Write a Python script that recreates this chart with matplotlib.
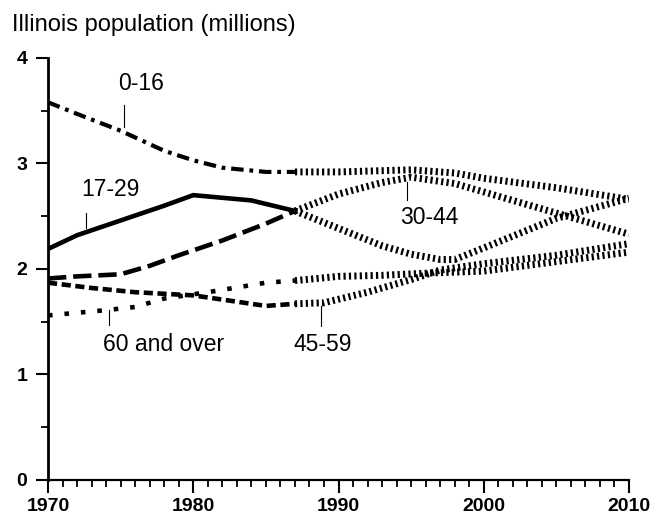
import matplotlib
matplotlib.use("Agg")
import matplotlib.pyplot as plt
from matplotlib.ticker import MultipleLocator

plt.rcParams['font.family'] = ['Liberation Sans', 'DejaVu Sans']

# recorded part of each series (to 1987)
yrs_0_16 = [1970, 1972, 1975, 1978, 1980, 1982, 1985, 1987]
val_0_16 = [3.58, 3.47, 3.31, 3.12, 3.03, 2.96, 2.92, 2.92]
yrs_17_29 = [1970, 1972, 1975, 1978, 1980, 1984, 1987]
val_17_29 = [2.19, 2.32, 2.46, 2.60, 2.70, 2.65, 2.55]
yrs_30_44 = [1970, 1972, 1975, 1977, 1979, 1982, 1985, 1987]
val_30_44 = [1.91, 1.93, 1.95, 2.03, 2.13, 2.27, 2.43, 2.55]
yrs_45_59 = [1970, 1973, 1976, 1980, 1983, 1985, 1987]
val_45_59 = [1.87, 1.82, 1.78, 1.75, 1.69, 1.65, 1.67]
yrs_60 = [1970, 1974, 1976, 1978, 1981, 1985, 1987]
val_60 = [1.56, 1.61, 1.64, 1.72, 1.78, 1.87, 1.89]

# projections (1987-2010)
pyrs_0_16 = [1987, 1990, 1995, 1998, 2000, 2005, 2010]
pval_0_16 = [2.92, 2.92, 2.94, 2.91, 2.86, 2.77, 2.66]
pyrs_17_29 = [1987, 1989, 1991, 1993, 1995, 1997, 1998, 2000, 2005, 2010]
pval_17_29 = [2.55, 2.44, 2.33, 2.22, 2.14, 2.09, 2.09, 2.20, 2.48, 2.67]
pyrs_30_44 = [1987, 1990, 1993, 1995, 1998, 2000, 2005, 2010]
pval_30_44 = [2.55, 2.71, 2.82, 2.87, 2.81, 2.73, 2.53, 2.33]
pyrs_45_59 = [1987, 1989, 1992, 1995, 1997, 2000, 2005, 2010]
pval_45_59 = [1.67, 1.68, 1.78, 1.90, 1.99, 2.05, 2.13, 2.24]
pyrs_60 = [1987, 1990, 1993, 1996, 2000, 2005, 2010]
pval_60 = [1.89, 1.93, 1.94, 1.96, 1.98, 2.07, 2.16]

fig = plt.figure(figsize=(6.55, 5.21), dpi=100)
ax = fig.add_axes([0.0733, 0.0787, 0.887, 0.81])

k = 'black'
ax.plot(yrs_0_16, val_0_16, color=k, lw=3.0, ls=(0, (3, 1.4, 0.9, 1.4)), dash_capstyle='butt')
ax.plot(yrs_17_29, val_17_29, color=k, lw=3.3, solid_joinstyle='miter')
ax.plot(yrs_30_44, val_30_44, color=k, lw=3.3, ls=(0, (4.0, 1.5)), dash_capstyle='butt')
ax.plot(yrs_45_59, val_45_59, color=k, lw=3.3, ls=(0, (2, 1)), dash_capstyle='butt')
ax.plot(yrs_60, val_60, color=k, lw=3.3, ls=(0, (1, 2.6)), dash_capstyle='butt')

hatch = (0, (0.32, 0.46))
for px, pv in [(pyrs_0_16, pval_0_16), (pyrs_17_29, pval_17_29),
               (pyrs_30_44, pval_30_44), (pyrs_45_59, pval_45_59),
               (pyrs_60, pval_60)]:
    ax.plot(px, pv, color=k, lw=5, ls=hatch, dash_capstyle='butt')

# labels with pointer ticks
labels = [("0-16", 1974.82, 3.76, 1975.23, 3.555, 3.346),
          ("17-29", 1972.27, 2.75, 1972.6, 2.53, 2.39),
          ("30-44", 1994.23, 2.49, 1994.7, 2.82, 2.65),
          ("60 and over", 1973.8, 1.28, 1974.2, 1.61, 1.47),
          ("45-59", 1986.87, 1.28, 1988.8, 1.65, 1.46)]
for txt, tx, ty, lx, y0, y1 in labels:
    ax.text(tx, ty, txt, fontsize=16.5, ha='left', va='center')
    ax.plot([lx, lx], [y0, y1], color=k, lw=0.8)

ax.set_xlim(1970, 2010)
ax.set_ylim(0, 4)
ax.xaxis.set_major_locator(MultipleLocator(10))
ax.xaxis.set_minor_locator(MultipleLocator(1))
ax.yaxis.set_major_locator(MultipleLocator(1))
ax.yaxis.set_minor_locator(MultipleLocator(0.5))
for s in ['top', 'right']:
    ax.spines[s].set_visible(False)
ax.spines['left'].set_linewidth(2.0)
ax.spines['bottom'].set_linewidth(1.6)
ax.tick_params(which='major', length=9, width=1.5, direction='out', pad=4)
ax.tick_params(which='minor', length=5, width=1.3, direction='out')
for lab in ax.get_xticklabels() + ax.get_yticklabels():
    lab.set_fontweight('bold')
    lab.set_fontsize(14)
ax.tick_params(axis='y', pad=6)

fig.text(12 / 655, 1 - 25 / 521, "Illinois population (millions)", fontsize=17,
         ha='left', va='center')

fig.savefig("out.png", dpi=100)
